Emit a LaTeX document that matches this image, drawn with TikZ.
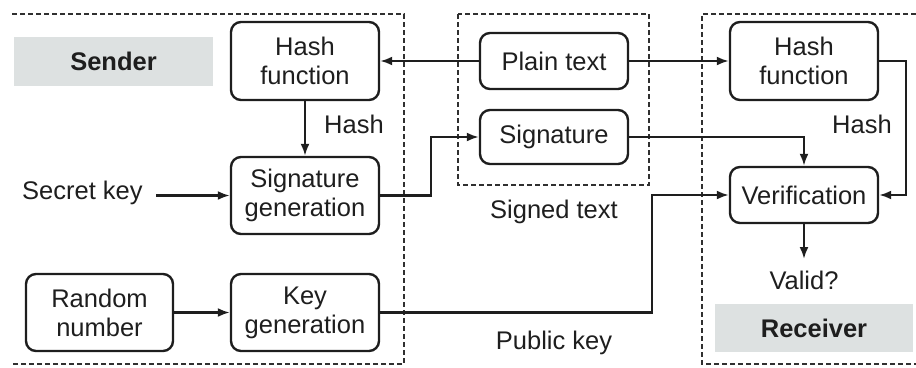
\documentclass[tikz,border=0pt]{standalone}
\usepackage{fontspec}
\setmainfont{Liberation Sans}
\usetikzlibrary{arrows.meta}
\definecolor{labelgray}{HTML}{DDE1E1}
\definecolor{dashgray}{HTML}{303030}
\definecolor{ink}{HTML}{1E1E1E}
\tikzset{
  txt/.style={font=\fontsize{25.5}{29}\selectfont, text=ink, align=center, inner sep=0pt},
  block/.style={txt, draw=ink, line width=2.4pt, rounded corners=10pt,
                minimum width=148pt},
  flow/.style={draw=ink, line width=2.2pt,
               -{Latex[length=12pt,width=9pt]}},
  zone/.style={draw=dashgray, line width=1.7pt, dash pattern=on 5pt off 3pt},
  tag/.style={txt, font=\fontsize{25.5}{29}\selectfont\bfseries, fill=labelgray}
}
\begin{document}
\begin{tikzpicture}[x=1pt,y=-1pt]
\useasboundingbox (0,0) rectangle (916,367);

% party regions
\draw[zone] (12,14) -- (404,14) -- (404,364) -- (12,364);
\draw[zone] (458,14) rectangle (649,185);
\draw[zone] (916,14) -- (702,14) -- (702,364) -- (916,364);

% party labels
\node[tag, minimum width=199pt, minimum height=49pt] (sender) at (113.5,61.5) {Sender};
\node[tag, minimum width=198pt, minimum height=48pt] (receiver) at (814,328) {Receiver};

% sender side
\node[block, minimum height=78pt] (hashL) at (305,61) {Hash\\function};
\node[block, minimum height=77pt] (siggen) at (305,195.5) {Signature\\generation};
\node[block, minimum height=77pt] (keygen) at (305,312.5) {Key\\generation};
\node[block, minimum width=147pt, minimum height=77pt] (rand) at (99.5,312.5) {Random\\number};
\node[txt, anchor=west] (secret) at (22,193) {Secret key};
\coordinate (skstart) at (156,195.5);

% signed text
\node[block, minimum height=56pt] (plain) at (554,61) {Plain text};
\node[block, minimum height=54pt] (sig) at (554,137) {Signature};
\node[txt] (signed) at (554,212) {Signed text};
\node[txt] (pubkey) at (554,343) {Public key};

% receiver side
\node[block, minimum height=78pt] (hashR) at (804,61) {Hash\\function};
\node[block, minimum height=56pt] (verif) at (804,195) {Verification};
\node[txt] (valid) at (804,280) {Valid?};
\coordinate (validtip) at (804,259);

% hash labels
\node[txt] (hashlblL) at (354,124) {Hash};
\node[txt] (hashlblR) at (862,124) {Hash};

% connectors
\draw[flow] (plain.west) -- (hashL.east);
\draw[flow] (plain.east) -- (hashR.west);
\draw[flow] (hashL.south) -- (siggen.north);
\draw[flow] (skstart) -- (siggen.west);
\draw[flow] (siggen.east) -- ++(51,0) |- (sig.west);
\draw[flow] (rand.east) -- (keygen.west);
\draw[flow] (keygen.east) -- ++(272,0) |- (verif.west);
\draw[flow] (sig.east) -| (verif.north);
\draw[flow] (hashR.east) -- ++(27,0) |- (verif.east);
\draw[flow] (verif.south) -- (validtip);
\end{tikzpicture}
\end{document}
